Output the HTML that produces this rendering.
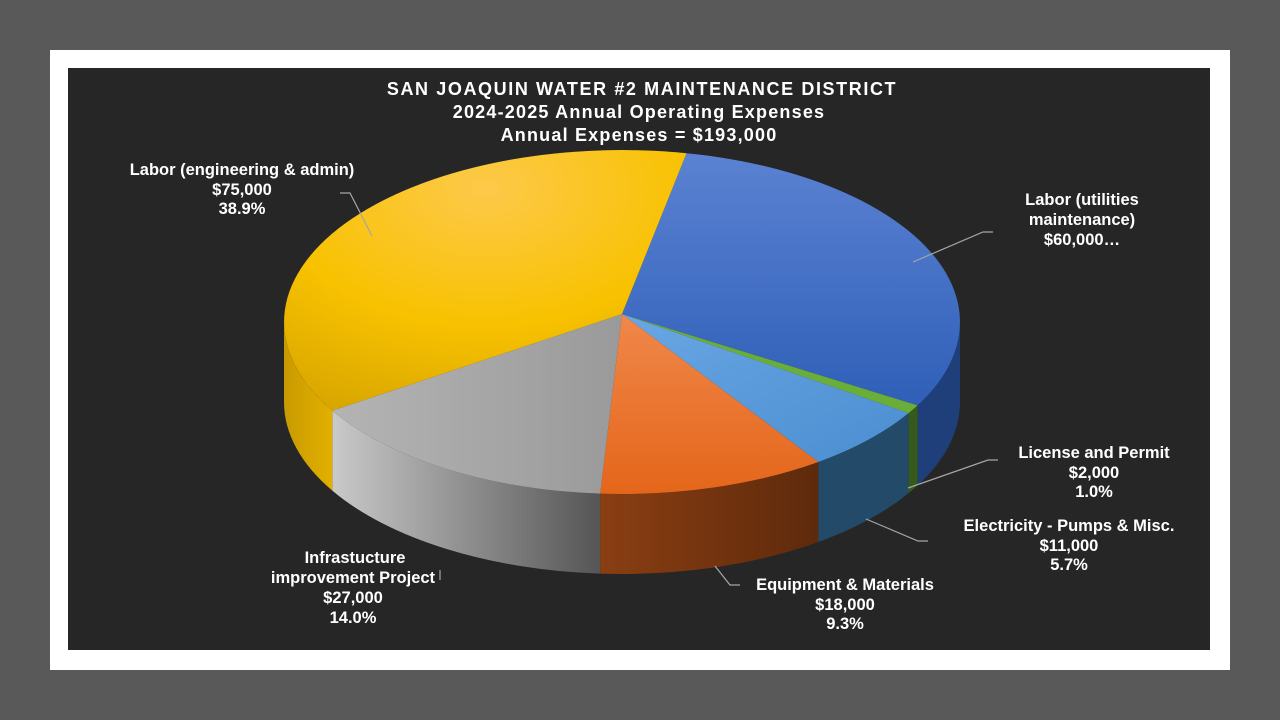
<!DOCTYPE html>
<html><head><meta charset="utf-8"><style>
body{margin:0;width:1280px;height:720px;background:#595959;overflow:hidden;font-family:"Liberation Sans",sans-serif}
#w{position:absolute;left:50px;top:50px;width:1180px;height:620px;background:#fff}
#d{position:absolute;left:68px;top:68px;width:1142px;height:582px;background:#262626}
svg{position:absolute;left:0;top:0}
</style></head><body>
<div id="w"></div><div id="d"></div>
<svg id="s" width="1280" height="720" font-family="Liberation Sans, sans-serif">
<defs>
<radialGradient id="gy" cx="0.5" cy="0.15" r="0.95"><stop offset="0" stop-color="#fdc94a"/><stop offset="0.55" stop-color="#f8c200"/><stop offset="1" stop-color="#d6a400"/></radialGradient>
<linearGradient id="gb" x1="0" y1="0" x2="0" y2="1"><stop offset="0" stop-color="#5b82d2"/><stop offset="1" stop-color="#2f5fb8"/></linearGradient>
<linearGradient id="gg" x1="0" y1="0" x2="1" y2="0"><stop offset="0" stop-color="#b4b4b4"/><stop offset="1" stop-color="#9a9a9a"/></linearGradient>
<linearGradient id="go" x1="0" y1="0" x2="0" y2="1"><stop offset="0" stop-color="#f0874a"/><stop offset="1" stop-color="#e4661a"/></linearGradient>
<linearGradient id="gl" x1="0" y1="0" x2="1" y2="1"><stop offset="0" stop-color="#6aa6e4"/><stop offset="1" stop-color="#4a8ed0"/></linearGradient>
<linearGradient id="sg" x1="0" y1="0" x2="1" y2="0"><stop offset="0" stop-color="#c9c9c9"/><stop offset="1" stop-color="#555"/></linearGradient>
<linearGradient id="so" x1="0" y1="0" x2="1" y2="0"><stop offset="0" stop-color="#8a3e12"/><stop offset="1" stop-color="#5e2a0c"/></linearGradient>
<linearGradient id="sy" x1="0" y1="0" x2="1" y2="0"><stop offset="0" stop-color="#c89a00"/><stop offset="1" stop-color="#e2b000"/></linearGradient>
</defs>
<g id="pie"></g>
<g fill="#fff" font-weight="bold" text-anchor="middle">
<text x="642" y="95" font-size="18" letter-spacing="1.6">SAN JOAQUIN WATER #2 MAINTENANCE DISTRICT</text>
<text x="639" y="118" font-size="18" letter-spacing="1.2">2024-2025 Annual Operating Expenses</text>
<text x="639" y="141" font-size="18" letter-spacing="1.2">Annual Expenses = $193,000</text>
<g font-size="16.5">
<text x="242" y="175">Labor (engineering &amp; admin)</text>
<text x="242" y="195">$75,000</text><text x="242" y="214">38.9%</text>
<text x="1082" y="205">Labor (utilities</text><text x="1082" y="225">maintenance)</text><text x="1082" y="245">$60,000…</text>
<text x="1094" y="458">License and Permit</text><text x="1094" y="478">$2,000</text><text x="1094" y="497">1.0%</text>
<text x="1069" y="531">Electricity - Pumps &amp; Misc.</text><text x="1069" y="551">$11,000</text><text x="1069" y="570">5.7%</text>
<text x="845" y="590">Equipment &amp; Materials</text><text x="845" y="610">$18,000</text><text x="845" y="629">9.3%</text>
<text x="355" y="563">Infrastucture</text><text x="353" y="583">improvement Project</text><text x="353" y="603">$27,000</text><text x="353" y="623">14.0%</text>
</g></g>
<g stroke="#a6a6a6" stroke-width="1.2" fill="none">
<polyline points="340,193 350,193 372,236"/>
<polyline points="993,232 983,232 913,262"/>
<polyline points="998,460 988,460 908,488"/>
<polyline points="928,541 918,541 866,519"/>
<polyline points="740,585 730,585 715,566"/>
<polyline points="440,580 440,570"/>
</g>
</svg>
<script>
var cx=622,cy=322,rx=338,ry=172,D=80,R=Math.PI/180;
function P(t,dy){return [cx+rx*Math.cos(t*R),cy+ry*Math.sin(t*R)+(dy||0)];}
function f(p){return p[0].toFixed(1)+","+p[1].toFixed(1);}
var sl=[[281,389,"url(#gb)","#1f3f7a"],[389,392,"#6aae3a","#365a1c"],[392,414.5,"url(#gl)","#234a68"],[54.5,93.7,"url(#go)","url(#so)"],[93.7,149,"url(#gg)","url(#sg)"],[149,281,"url(#gy)","url(#sy)"]];
var g=document.getElementById("pie"),h="";
sl.forEach(function(s){var a=s[0]%360,b=a+(s[1]-s[0]);var a1=Math.max(a,0),b1=Math.min(b,180);
 if(a>=360){a-=360;b-=360;a1=Math.max(a,0);b1=Math.min(b,180);}
 if(a<0||a>180){ if(b>360){a1=0;b1=Math.min(b-360,180);} else return;}
 if(b1<=a1)return;
 var p1=P(a1),p2=P(b1),q1=P(a1,D),q2=P(b1,D);
 h+='<path d="M'+f(p1)+' A'+rx+','+ry+' 0 0 1 '+f(p2)+' L'+f(q2)+' A'+rx+','+ry+' 0 0 0 '+f(q1)+' Z" fill="'+s[3]+'"/>';});
sl.forEach(function(s){var p1=P(s[0]),p2=P(s[1]);var lg=(s[1]-s[0])>180?1:0;
 h+='<path d="M'+cx+','+(cy-8)+' L'+f(p1)+' A'+rx+','+ry+' 0 '+lg+' 1 '+f(p2)+' Z" fill="'+s[2]+'"/>';});
g.innerHTML=h;
</script>
</body></html>
